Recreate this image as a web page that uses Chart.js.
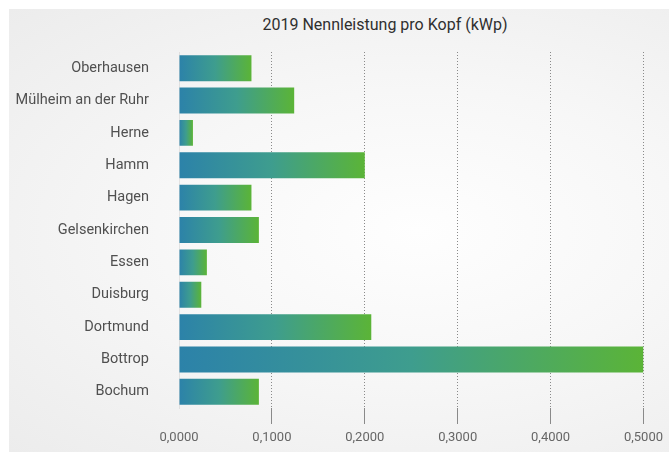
<!DOCTYPE html>
<html lang="de">
<head>
    <meta charset="UTF-8">
    <title>2019 Nennleistung pro Kopf (kWp)</title>
    <script src="https://cdn.jsdelivr.net/npm/chart.js"></script>
    <style>
        body {
            margin: 0;
            background: #ffffff;
            font-family: Roboto, Arial, sans-serif;
        }
        #wrap {
            position: relative;
            width: 669px;
            height: 453px;
        }
        #bg {
            position: absolute;
            left: 9px;
            top: 9px;
            width: 660px;
            height: 443px;
            background: radial-gradient(ellipse at 62% 50%, #fefefe 0%, #f7f7f7 45%, #ececec 100%);
        }
        #title {
            position: absolute;
            top: 15px;
            left: 385px;
            transform: translateX(-50%);
            white-space: nowrap;
            font-size: 16px;
            color: #2f2f2f;
        }
        canvas {
            position: absolute;
            left: 0;
            top: 0;
        }
    </style>
</head>
<body>
<div id="wrap">
    <div id="bg"></div>
    <div id="title">2019 Nennleistung pro Kopf (kWp)</div>
    <canvas id="barChart" width="669" height="453"></canvas>
</div>

<script>
    // Cities and per-capita rated power (kWp)
    const cities = ['Oberhausen', 'Mülheim an der Ruhr', 'Herne', 'Hamm', 'Hagen', 'Gelsenkirchen',
                    'Essen', 'Duisburg', 'Dortmund', 'Bottrop', 'Bochum'];
    const kwpPerHead = [0.078, 0.124, 0.015, 0.200, 0.078, 0.086, 0.030, 0.024, 0.207, 0.500, 0.086];
    const tickValues = [0, 0.1, 0.2, 0.3, 0.4, 0.5];

    // each bar gets its own blue -> green gradient over its length
    function barGradient(context) {
        const chart = context.chart;
        if (!chart.chartArea || !chart.scales.x) return '#3f9e8f';
        const x = chart.scales.x;
        const x0 = x.getPixelForValue(0);
        const x1 = x.getPixelForValue(context.raw);
        const g = chart.ctx.createLinearGradient(x0, 0, Math.max(x1, x0 + 1), 0);
        g.addColorStop(0, '#2c82a9');
        g.addColorStop(0.5, '#3e9d8e');
        g.addColorStop(1, '#5bb437');
        return g;
    }

    const ctx = document.getElementById('barChart').getContext('2d');
    const barChart = new Chart(ctx, {
        type: 'bar',
        data: {
            labels: cities,
            datasets: [{
                data: kwpPerHead,
                backgroundColor: barGradient,
                borderWidth: 0,
                barPercentage: 0.8,
                categoryPercentage: 1.0
            }]
        },
        options: {
            indexAxis: 'y',
            responsive: false,
            animation: false,
            layout: {
                padding: { top: 52, right: 2, bottom: 0, left: 0 }
            },
            plugins: {
                legend: { display: false },
                tooltip: { enabled: false }
            },
            scales: {
                x: {
                    min: 0,
                    max: 0.5,
                    afterBuildTicks: function (scale) {
                        scale.ticks = tickValues.map(v => ({ value: v }));
                    },
                    afterFit: function (scale) {
                        scale.height = 45;
                    },
                    grid: {
                        // no dotted line at zero, the bars start there
                        color: c => (c.tick && c.tick.value === 0) ? 'rgba(0,0,0,0)' : '#8a8a8a',
                        lineWidth: 1,
                        tickLength: 16,
                        drawTicks: true
                    },
                    border: { display: false, dash: [1, 2] },
                    ticks: {
                        padding: 6,
                        color: '#666666',
                        font: { family: 'Roboto', size: 13 },
                        callback: v => Number(v).toFixed(4).replace('.', ',')
                    }
                },
                y: {
                    afterFit: function (scale) {
                        scale.width = 179;
                    },
                    grid: { display: false, drawTicks: false },
                    border: { display: true, color: 'rgba(0,0,0,0.08)' },
                    ticks: {
                        padding: 30,
                        color: '#505050',
                        font: { family: 'Roboto', size: 14.5 }
                    }
                }
            }
        }
    });
</script>
</body>
</html>
